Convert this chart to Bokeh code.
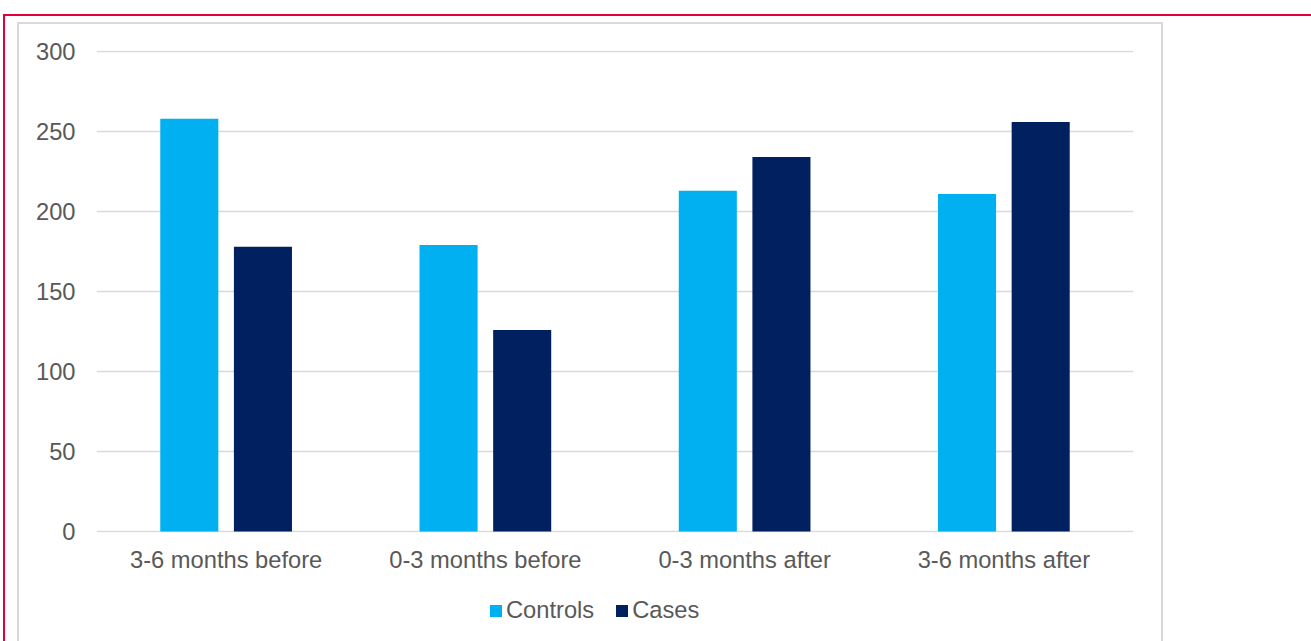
from bokeh.plotting import figure
from bokeh.layouts import column
from bokeh.models import (ColumnDataSource, FactorRange, Range1d, FixedTicker,
                          Legend, LegendItem)
from bokeh.transform import dodge
from bokeh.embed import file_html
from bokeh.resources import INLINE

categories = ["3-6 months before", "0-3 months before", "0-3 months after", "3-6 months after"]
controls = [258, 179, 213, 211]
cases = [178, 126, 234, 256]
y_ticks = [0, 50, 100, 150, 200, 250, 300]
series_names = ["Controls", "Cases"]
series_colors = ["#00B0F0", "#002060"]

FONT = "Liberation Sans"
TXT = "#595959"
FS = "23.7px"

src = ColumnDataSource(dict(cat=categories, controls=controls, cases=cases))

# ---------------- main chart ----------------
p = figure(width=1311, height=590,
           x_range=FactorRange(factors=categories, range_padding=0),
           y_range=Range1d(-0.625, 300.625),
           output_backend="svg", toolbar_location=None,
           min_border_left=96, min_border_right=178,
           min_border_top=50, min_border_bottom=58)

p.background_fill_color = "white"
p.border_fill_color = None
p.outline_line_color = None

# decorative outer frames (red page edge, light grey chart box) drawn as host background
p.styles = {
    "background": (
        "linear-gradient(#E1003C,#E1003C) 4px 14px/1400px 2px no-repeat, "
        "linear-gradient(#E1003C,#E1003C) 3px 14px/2px 700px no-repeat, "
        "linear-gradient(#D9D9D9,#D9D9D9) 17px 22px/1146px 2px no-repeat, "
        "linear-gradient(#D9D9D9,#D9D9D9) 17px 22px/2px 700px no-repeat, "
        "linear-gradient(#D9D9D9,#D9D9D9) 1161px 22px/2px 700px no-repeat, "
        "white"
    )
}

p.vbar(x=dodge("cat", -0.142, range=p.x_range), top="controls", width=0.224,
       source=src, fill_color=series_colors[0], line_color=None)
p.vbar(x=dodge("cat", 0.142, range=p.x_range), top="cases", width=0.224,
       source=src, fill_color=series_colors[1], line_color=None)

p.xgrid.grid_line_color = None
p.ygrid.grid_line_color = "#D9D9D9"
p.ygrid.grid_line_width = 1.5
p.ygrid.ticker = FixedTicker(ticks=y_ticks)

p.yaxis.ticker = FixedTicker(ticks=y_ticks)
for ax in (p.xaxis, p.yaxis):
    ax.axis_line_color = None
    ax.major_tick_line_color = None
    ax.minor_tick_line_color = None
    ax.major_tick_out = 0
    ax.major_tick_in = 0
    ax.major_label_text_font = FONT
    ax.major_label_text_font_size = FS
    ax.major_label_text_color = TXT
p.yaxis.major_label_standoff = 21
p.xaxis.major_label_standoff = 14

# ---------------- legend strip ----------------
lg = figure(width=1311, height=51, x_range=p.x_range, y_range=Range1d(0, 1),
            output_backend="svg", toolbar_location=None,
            x_axis_location=None, y_axis_location=None, min_border=0)
lg.background_fill_color = None
lg.border_fill_color = None
lg.outline_line_color = None
lg.grid.visible = False
lg.styles = {
    "background": (
        "linear-gradient(#E1003C,#E1003C) 3px 0px/2px 100px no-repeat, "
        "linear-gradient(#D9D9D9,#D9D9D9) 17px 0px/2px 100px no-repeat, "
        "linear-gradient(#D9D9D9,#D9D9D9) 1161px 0px/2px 100px no-repeat, "
        "white"
    )
}
# legend proxies (same series, hidden in this strip; only their legend swatches show)
k1 = lg.vbar(x=dodge("cat", -0.142, range=p.x_range), top="controls", width=0.224,
             source=src, fill_color=series_colors[0], line_color=None, visible=False)
k2 = lg.vbar(x=dodge("cat", 0.142, range=p.x_range), top="cases", width=0.224,
             source=src, fill_color=series_colors[1], line_color=None, visible=False)

legend = Legend(items=[LegendItem(label=series_names[0], renderers=[k1]),
                       LegendItem(label=series_names[1], renderers=[k2])],
                orientation="horizontal", location=(392, 17),
                glyph_width=15, glyph_height=15, label_standoff=3, spacing=20,
                padding=0, margin=0, border_line_color=None,
                background_fill_alpha=0, inactive_fill_alpha=0,
                label_text_font=FONT, label_text_font_size=FS,
                label_text_color=TXT)
lg.add_layout(legend, "center")

layout = column(p, lg, spacing=0)
open("out.html", "w").write(file_html(layout, INLINE))
